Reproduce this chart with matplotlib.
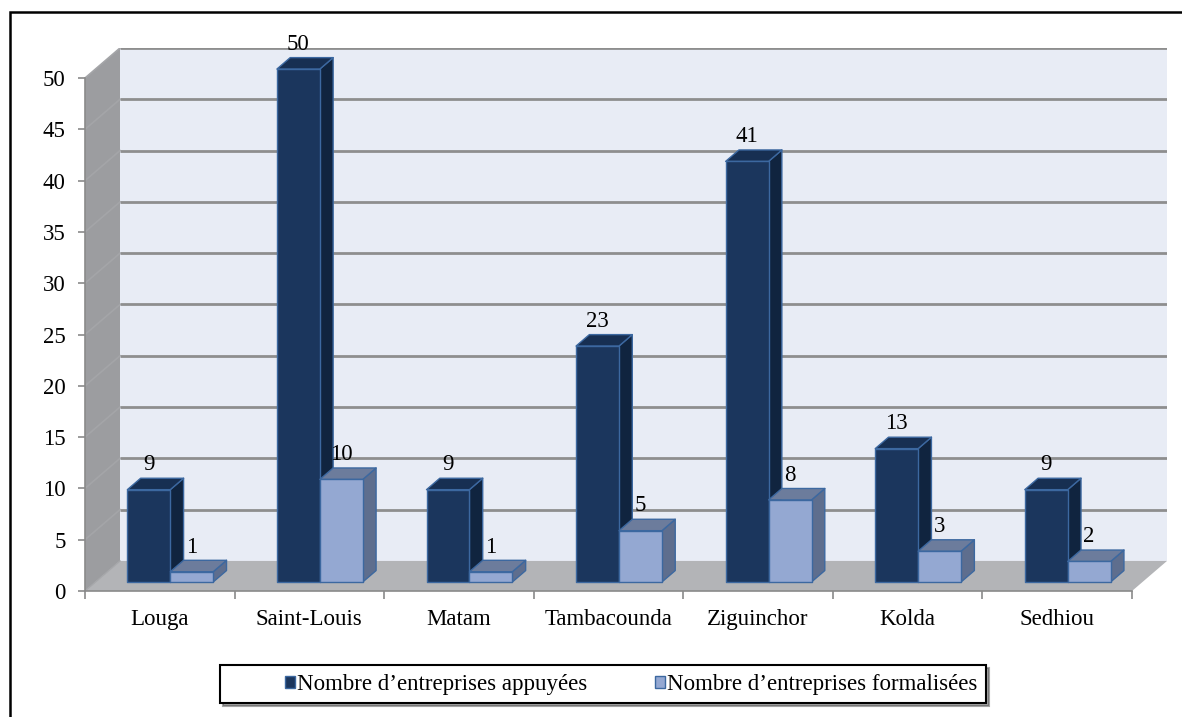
import matplotlib.pyplot as plt
from matplotlib.patches import Polygon, Rectangle, Patch
from matplotlib.legend_handler import HandlerPatch

# Régions et effectifs
regions = ["Louga", "Saint-Louis", "Matam", "Tambacounda", "Ziguinchor", "Kolda", "Sedhiou"]
appuyees = [9, 50, 9, 23, 41, 13, 9]
formalisees = [1, 10, 1, 5, 8, 3, 2]
series_names = ["Nombre d\u2019entreprises appuyées", "Nombre d\u2019entreprises formalisées"]
y_ticks = list(range(0, 55, 5))

plt.rcParams["font.family"] = ["Liberation Serif", "DejaVu Serif"]
FS = 16.5

W, H = 1182, 717
fig = plt.figure(figsize=(W / 100, H / 100), dpi=100)

# pseudo-3D depth offsets, in data units
DX = 35 / 149.6
DY = 30 / 10.24
n = len(regions)
ymax = 50

ax = fig.add_axes([85 / W, (H - 591) / H, (1167 - 85) / W, (591 - 48) / H])
ax.set_xlim(0, n + DX)
ax.set_ylim(0, ymax + DY)
ax.patch.set_visible(False)

grid_c = "#8e8e8e"
# back wall, side wall, floor
ax.add_patch(Rectangle((DX, DY), n, ymax, facecolor="#e8ecf5", edgecolor="none", zorder=0))
ax.add_patch(Polygon([(0, 0), (0, ymax), (DX, ymax + DY), (DX, DY)],
                     facecolor="#9c9da0", edgecolor="none", zorder=0))
ax.add_patch(Polygon([(0, 0), (DX, DY), (n + DX, DY), (n, 0)],
                     facecolor="#b3b4b7", edgecolor="none", zorder=0.5))
for v in y_ticks[1:]:
    ax.plot([DX, n + DX], [v + DY, v + DY], color=grid_c, lw=2.0, zorder=0.3,
            solid_capstyle="butt")
    ax.plot([0, DX], [v, v + DY], color="#a4a5a8", lw=1.2, zorder=0.3)
ax.plot([0, DX], [0, DY], color="#a6a7aa", lw=1.0, zorder=0.6)

# bars
bw = 0.287
off = (1 - 2 * bw) / 2
d0, d1 = 0.3, 0.68
styles = [
    dict(front="#1b365d", side="#10243f", top="#172f52", edge="#3c68a0"),
    dict(front="#94a8d2", side="#5e6e8e", top="#6c7c9c", edge="#3c68a0"),
]


def draw_bar(x0, v, st, z):
    x1 = x0 + bw
    ax0, ay0 = d0 * DX, d0 * DY
    bx0, by0 = d1 * DX, d1 * DY
    kw = dict(edgecolor=st["edge"], lw=1.0, joinstyle="round", zorder=z)
    ax.add_patch(Polygon([(x1 + ax0, ay0), (x1 + bx0, by0), (x1 + bx0, v + by0), (x1 + ax0, v + ay0)],
                         facecolor=st["side"], **kw))
    ax.add_patch(Polygon([(x0 + ax0, v + ay0), (x1 + ax0, v + ay0), (x1 + bx0, v + by0), (x0 + bx0, v + by0)],
                         facecolor=st["top"], **kw))
    ax.add_patch(Rectangle((x0 + ax0, ay0), bw, v, facecolor=st["front"], **kw))
    ax.annotate(f"{v}", (x0 + ax0 + bw / 2, v + by0), xytext=(0, 2), textcoords="offset points",
                ha="center", va="bottom", fontsize=FS, zorder=10)


for i in range(n):
    for s, vals in enumerate([appuyees, formalisees]):
        draw_bar(i + off + s * bw, vals[i], styles[s], 2 + i + s * 0.5)

# axes, ticks, labels
for sp in ["top", "right"]:
    ax.spines[sp].set_visible(False)
ax.spines["left"].set_bounds(0, ymax)
ax.spines["bottom"].set_bounds(0, n)
for sp in ["left", "bottom"]:
    ax.spines[sp].set_color("#8a8a8a")
    ax.spines[sp].set_linewidth(1.2)
    ax.spines[sp].set_zorder(1)

ax.set_yticks(y_ticks)
ax.tick_params(axis="y", length=5, width=1.2, color="#8a8a8a", labelsize=FS, pad=9)
ax.set_xticks(range(n + 1))
ax.set_xticklabels([])
ax.set_xticks([i + 0.5 for i in range(n)], minor=True)
ax.set_xticklabels(regions, minor=True)
ax.tick_params(axis="x", which="major", length=6, width=1.2, color="#8a8a8a")
ax.tick_params(axis="x", which="minor", length=0, labelsize=FS, pad=13)


# legend keys: small square at the right end of a wide handle box
def right_square(legend, orig_handle, xdescent, ydescent, width, height, fontsize):
    sw, sh = 7.0, 8.6
    return Rectangle((width - xdescent - sw, -ydescent + (height - sh) / 2), sw, sh)


handles = [Patch(facecolor=styles[0]["front"], edgecolor=styles[0]["edge"]),
           Patch(facecolor=styles[1]["front"], edgecolor=styles[1]["edge"])]
leg = fig.legend(handles, series_names, loc="center", bbox_to_anchor=(603 / W, 1 - 684 / H),
                 ncol=2, fontsize=FS, frameon=True, fancybox=False, shadow=True,
                 handler_map={Patch: HandlerPatch(patch_func=right_square)},
                 handlelength=2.9, handleheight=0.9, handletextpad=0.1,
                 columnspacing=0.5, borderpad=0.35)
leg.get_frame().set_edgecolor("black")
leg.get_frame().set_linewidth(1.5)

# outer frame
fig.patches.append(Rectangle((10 / W, -0.1), 1.2, 1 - 12 / H + 0.1, transform=fig.transFigure,
                             facecolor="none", edgecolor="black", lw=1.8, zorder=-1))

fig.savefig("out.png", dpi=100)
